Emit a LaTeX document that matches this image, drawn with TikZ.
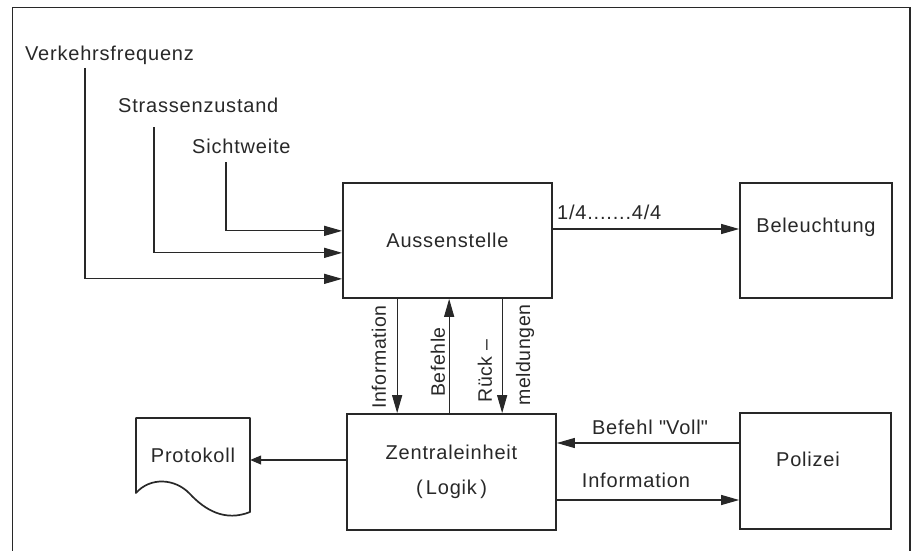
\documentclass[tikz,border=0pt]{standalone}
\usepackage{fontspec}
\setmainfont{Liberation Sans}[LetterSpace=4]
\usetikzlibrary{arrows.meta,calc}
\definecolor{ink}{RGB}{40,40,40}
\begin{document}
\begin{tikzpicture}[x=1pt,y=-1pt,
  every node/.style={font=\fontsize{20}{35}\selectfont, text=ink, inner sep=0pt},
  boxline/.style={draw=ink, line width=1.7pt},
  blk/.style={boxline, rectangle},
  arr/.style={draw=ink, line width=1.2pt, -{Triangle[length=18pt,width=10pt]}},
  arrsmall/.style={draw=ink, line width=1.1pt, -{Triangle[length=11pt,width=9pt]}},
  vlabel/.style={rotate=90, font=\fontsize{19.5}{22}\selectfont\addfontfeatures{LetterSpace=3}}
]
\useasboundingbox (0,0) rectangle (916,551);
\fill[white] (0,0) rectangle (916,551);
% frame (open at the bottom)
\draw[draw=ink, line width=1.5pt] (12.5,551) -- (12.5,7.5) -- (910,7.5) -- (910,551);

% boxes
\node[blk, minimum width=209pt, minimum height=115pt] (aus) at (447.5,240.5) {Aussenstelle};
\node[blk, minimum width=152pt, minimum height=115pt,
      label={[yshift=13.5pt, text=ink]center:Beleuchtung}] (bel) at (816,240.5) {};
\node[blk, minimum width=209pt, minimum height=116pt, align=center] (zen) at (451.5,472)
      {Zentraleinheit\\(\,Logik\,)};
\node[blk, minimum width=151pt, minimum height=116pt,
      label={[yshift=12pt, xshift=-7.5pt, text=ink]center:Polizei}] (pol) at (815.5,471) {};

% Protokoll document shape
\draw[boxline, line join=round] (136,493) -- (136,418) -- (250,418) -- (250,512)
   .. controls (225,522) and (205,510) .. (190,494)
   .. controls (175,478) and (150,477) .. (136,493) -- cycle;
\node[minimum width=114pt, minimum height=74pt] (prot) at (193,455) {Protokoll};

% input labels
\node[anchor=base west] (vf) at (25,60) {Verkehrsfrequenz};
\node[anchor=base west] (sz) at (118,113) {Strassenzustand};
\node[anchor=base west] (sw) at (192,153) {Sichtweite};

\coordinate (s1) at ($(vf.base west)+(60,8)$);
\coordinate (s2) at ($(sz.base west)+(36,14)$);
\coordinate (s3) at ($(sw.base west)+(34,9)$);
\coordinate (e1) at ($(aus.south west)+(0,-20)$);
\coordinate (e2) at ($(aus.south west)+(0,-46)$);
\coordinate (e3) at ($(aus.south west)+(0,-68)$);
\draw[arr] (s1) |- (e1);
\draw[arr] (s2) |- (e2);
\draw[arr] (s3) |- (e3);

% Aussenstelle -> Beleuchtung
\coordinate (ab1) at ($(aus.east)+(0,-11.5)$);
\draw[arr] (ab1) -- (ab1 -| bel.west);
\node[anchor=base west] (frac) at (557,219) {1/4.......4/4};

% vertical connections
\coordinate (v1) at ($(aus.south west)+(55,0)$);
\coordinate (v2) at ($(aus.south west)+(107,0)$);
\coordinate (v3) at ($(aus.south west)+(160,0)$);
\draw[arr] (v1) -- (v1 |- zen.north);
\draw[arr] (v2 |- zen.north) -- (v2);
\draw[arr] (v3) -- (v3 |- zen.north);
\node[vlabel] (linfo) at (379,357) {Information};
\node[vlabel] (lbef) at (438,362) {Befehle};
\node[vlabel] (lrue) at (485,371) {Rück –};
\node[vlabel] (lmel) at (525,355) {meldungen};

% Zentraleinheit -> Protokoll
\coordinate (zp) at ($(zen.west)+(0,-12)$);
\draw[arrsmall] (zp) -- (zp -| prot.east);

% Polizei <-> Zentraleinheit
\coordinate (pz) at ($(pol.west)+(0,-28)$);
\draw[arr] (pz) -- (pz -| zen.east);
\node[anchor=center] (lvoll) at (650,427) {Befehl \textquotedbl Voll\textquotedbl};
\coordinate (zq) at ($(zen.east)+(0,28)$);
\draw[arr] (zq) -- (zq -| pol.west);
\node[anchor=center] (linf2) at (636,480) {Information};
\end{tikzpicture}
\end{document}
